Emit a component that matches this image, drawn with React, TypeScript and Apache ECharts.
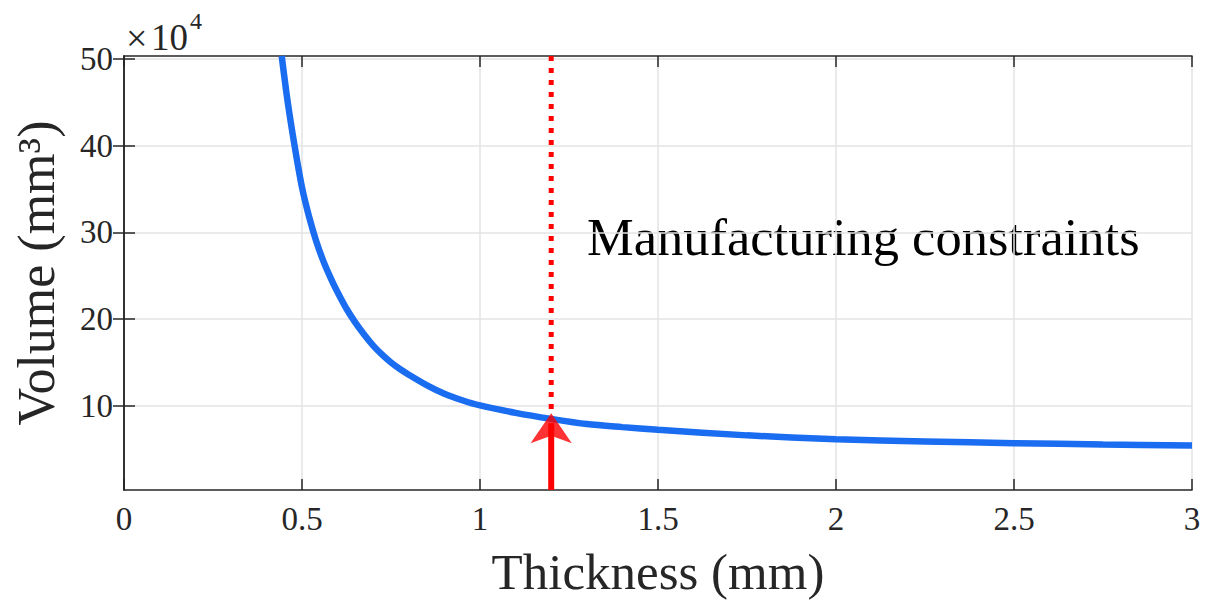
import React, { useEffect, useRef } from "react";
import * as echarts from "echarts";

// Data (Volume in units of 10^4 mm^3)
const thickness = [0.443, 0.46, 0.48, 0.5, 0.52, 0.54, 0.56, 0.58, 0.6, 0.625, 0.65, 0.675, 0.7, 0.725, 0.75, 0.775, 0.8, 0.85, 0.9, 0.95, 1.0, 1.1, 1.2, 1.3, 1.4, 1.5, 1.75, 2.0, 2.25, 2.5, 2.75, 3.0];
const volume = [50.35, 45.0, 39.8, 35.2, 31.8, 29.0, 26.7, 24.8, 23.1, 21.2, 19.6, 18.2, 16.95, 15.9, 15.0, 14.25, 13.6, 12.4, 11.4, 10.65, 10.05, 9.2, 8.5, 7.9, 7.55, 7.25, 6.6, 6.15, 5.9, 5.7, 5.55, 5.42];

const xMin = 0;
const xMax = 3;
const xInterval = 0.5;
const yMin = 0.3;
const yMax = 50.35;
const yTicks = [10, 20, 30, 40, 50];

const constraintThickness = 1.2;
const arrowTipVolume = 9.15;
const dottedEndVolume = 9.4;
const shaftEndVolume = 8.0;

const annotation = "Manufacturing constraints";
const xName = "Thickness (mm)";
const yName = "Volume (mm\u00B3)";

const FONT = "Liberation Serif";
const AXIS_COLOR = "#262626";

export default function App() {
  const ref = useRef<HTMLDivElement>(null);

  useEffect(() => {
    document.body.style.margin = "0";
    const chart = echarts.init(ref.current!, null, { renderer: "svg" });

    const axisLine = { show: true, lineStyle: { color: AXIS_COLOR, width: 1.5 } };
    const axisTick = { show: true, inside: true, length: 11, lineStyle: { color: AXIS_COLOR, width: 1.5 } };

    const option: any = {
      animation: false,
      backgroundColor: "#ffffff",
      grid: { left: 124, right: 18, top: 56, bottom: 113, containLabel: false },
      xAxis: [
        {
          type: "value",
          min: xMin,
          max: xMax,
          interval: xInterval,
          position: "bottom",
          axisLine,
          axisTick,
          axisLabel: { color: AXIS_COLOR, fontFamily: FONT, fontSize: 33, margin: 12 },
          splitLine: { show: true, lineStyle: { color: "#e3e3e3", width: 1.5 } },
          name: xName,
          nameLocation: "middle",
          nameGap: 56,
          nameTextStyle: { color: AXIS_COLOR, fontFamily: FONT, fontSize: 51 },
        },
        {
          type: "value",
          min: xMin,
          max: xMax,
          interval: xInterval,
          position: "top",
          axisLine,
          axisTick,
          axisLabel: { show: false },
          splitLine: { show: false },
        },
      ],
      yAxis: [
        {
          type: "value",
          min: yMin,
          max: yMax,
          position: "left",
          axisLine,
          axisTick: { ...axisTick, customValues: yTicks },
          axisLabel: { color: AXIS_COLOR, fontFamily: FONT, fontSize: 33, margin: 11, customValues: yTicks },
          splitLine: { show: true, lineStyle: { color: "#e3e3e3", width: 1.5 } },
          name: yName,
          nameLocation: "middle",
          nameGap: 62,
          nameTextStyle: { color: AXIS_COLOR, fontFamily: FONT, fontSize: 52 },
        },
        {
          type: "value",
          min: yMin,
          max: yMax,
          position: "right",
          axisLine,
          axisTick: { ...axisTick, customValues: yTicks },
          axisLabel: { show: false, customValues: yTicks },
          splitLine: { show: false },
        },
      ],
      graphic: [
        {
          type: "text",
          left: 126,
          top: 19,
          style: { text: "\u00D7", fontSize: 38, fontFamily: FONT, fill: AXIS_COLOR },
        },
        {
          type: "text",
          left: 151,
          top: 19,
          style: { text: "10", fontSize: 37, fontFamily: FONT, fill: AXIS_COLOR },
        },
        {
          type: "text",
          left: 190,
          top: 9,
          style: { text: "4", fontSize: 24, fontFamily: FONT, fill: AXIS_COLOR },
        },
        {
          type: "text",
          left: 587,
          top: 210,
          style: { text: annotation, fontSize: 52.5, fontFamily: FONT, fill: "#000000" },
        },
      ],
      series: [
        {
          type: "line",
          data: thickness.map((t, i) => [t, volume[i]]),
          showSymbol: false,
          smooth: 0.3,
          lineStyle: { color: "#1a6cf0", width: 6.5 },
          z: 2,
        },
        {
          type: "line",
          data: [
            [constraintThickness, yMax],
            [constraintThickness, dottedEndVolume],
          ],
          showSymbol: false,
          lineStyle: { color: "#ff0000", width: 5, type: [5, 7], cap: "butt" },
          z: 3,
        },
        {
          type: "line",
          data: [
            [constraintThickness, yMin],
            [constraintThickness, shaftEndVolume],
          ],
          showSymbol: false,
          lineStyle: { color: "#ff0000", width: 6 },
          z: 3,
        },
        {
          type: "scatter",
          data: [[constraintThickness, arrowTipVolume]],
          symbol: "arrow",
          symbolSize: [31, 30],
          symbolOffset: [0, 0],
          itemStyle: { color: "#ff0000" },
          z: 4,
        },
      ],
    };

    chart.setOption(option);
    return () => chart.dispose();
  }, []);

  return <div ref={ref} style={{ position: "fixed", left: 0, top: 0, width: 1210, height: 603 }} />;
}
